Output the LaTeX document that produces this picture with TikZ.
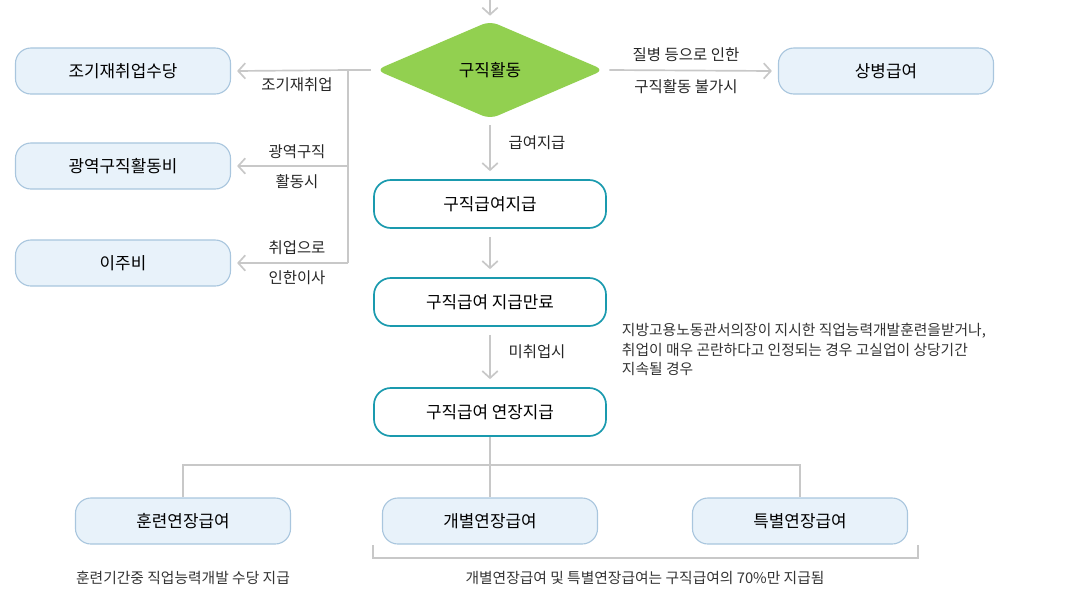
\documentclass[tikz,border=0pt]{standalone}
\usepackage{fontspec}
\setmainfont{Noto Sans CJK KR}
\usetikzlibrary{arrows.meta, positioning, calc, shapes.geometric}
\definecolor{leaf}{HTML}{92D050}
\definecolor{teal}{HTML}{1A9AAE}
\definecolor{pale}{HTML}{E8F2FA}
\definecolor{paleline}{HTML}{A9C6DE}
\definecolor{wire}{HTML}{C8C8C8}
\begin{document}
\begin{tikzpicture}[
        x=0.025cm, y=-0.025cm,
        sidebox/.style={
            rounded corners=11pt,
            draw=paleline,
            fill=pale,
            thick,
            minimum width=5.375cm,
            minimum height=1.15cm,
            font=\fontsize{12}{14}\selectfont
        },
        mainbox/.style={
            rounded corners=12pt,
            draw=teal,
            fill=white,
            line width=1.2pt,
            minimum width=5.8cm,
            minimum height=1.2cm,
            font=\fontsize{12}{14}\selectfont
        },
        wire/.style={draw=wire, line width=1.2pt},
        flow/.style={wire, -{Straight Barb[length=5pt, width=11pt]}},
        lbl/.style={font=\fontsize{11}{13}\selectfont, text=black!85},
        note/.style={font=\fontsize{10.5}{14}\selectfont, text=black!80, align=left}
    ]
    \useasboundingbox (0,0) rectangle (1084,599);

    \node[diamond, fill=leaf, rounded corners=6pt, minimum width=5.7cm,
          minimum height=2.45cm, aspect=2.35, inner sep=0pt,
          font=\fontsize{12}{14}\selectfont] (act) at (490,70) {구직활동};
    \coordinate (top) at (490,0);
    \draw[flow] (top) -- ($(act.north)+(0,-5)$);

    \node[sidebox] (early) at (123,71) {조기재취업수당};
    \node[sidebox] (wide) at (123,166) {광역구직활동비};
    \node[sidebox] (move) at (123,263) {이주비};
    \node[sidebox] (sick) at (886,71) {상병급여};

    \node[mainbox] (pay) at (490,204) {구직급여지급};
    \node[mainbox] (end) at (490,302) {구직급여 지급만료};
    \node[mainbox] (ext) at (490,412) {구직급여 연장지급};

    \node[sidebox] (train) at (183,521) {훈련연장급여};
    \node[sidebox] (indiv) at (490,521) {개별연장급여};
    \node[sidebox] (spec) at (800,521) {특별연장급여};

    % left branch
    \coordinate (j0) at (348,70);
    \coordinate (j1) at (348,166);
    \coordinate (j2) at (348,263);
    \draw[wire] ($(act.west)+(-5,0)$) -- (j0) -- (j2);
    \draw[flow] (j0) -- ($(early.east)+(6,0)$);
    \draw[flow] (j1) -- ($(wide.east)+(6,0)$);
    \draw[flow] (j2) -- ($(move.east)+(6,0)$);
    \node[lbl] at (297,85) {조기재취업};
    \node[lbl] at (297,152) {광역구직};
    \node[lbl] at (297,182) {활동시};
    \node[lbl] at (297,248) {취업으로};
    \node[lbl] at (297,278) {인한이사};

    % right branch
    \draw[flow] ($(act.east)+(5,0)$) -- ($(sick.west)+(-6,0)$);
    \node[lbl] at (686,55) {질병 등으로 인한};
    \node[lbl] at (686,87) {구직활동 불가시};

    % main column
    \draw[flow] ($(act.south)+(0,6)$) -- ($(pay.north)+(0,-8)$);
    \node[lbl] at (537,143) {급여지급};
    \draw[flow] ($(pay.south)+(0,8)$) -- ($(end.north)+(0,-8)$);
    \draw[flow] ($(end.south)+(0,8)$) -- ($(ext.north)+(0,-8)$);
    \node[lbl] at (537,352) {미취업시};
    \node[note, anchor=north west] at (617,318)
        {지방고용노동관서의장이 지시한 직업능력개발훈련을받거나,\\
         취업이 매우 곤란하다고 인정되는 경우 고실업이 상당기간\\
         지속될 경우};

    % extension split
    \coordinate (s1) at (183,465);
    \coordinate (s2) at (800,465);
    \draw[wire] (ext.south) -- (indiv.north);
    \draw[wire] (train.north) -- (s1) -- (s2) -- (spec.north);

    % bracket
    \coordinate (b0) at (373,545);
    \coordinate (b1) at (918,545);
    \draw[draw=wire, thick] (b0) -- ++(0,13) -| (b1);

    \node[note] at (183,578) {훈련기간중 직업능력개발 수당 지급};
    \node[note] at (645,578) {개별연장급여 및 특별연장급여는 구직급여의 70\%만 지급됨};

\end{tikzpicture}
\end{document}
